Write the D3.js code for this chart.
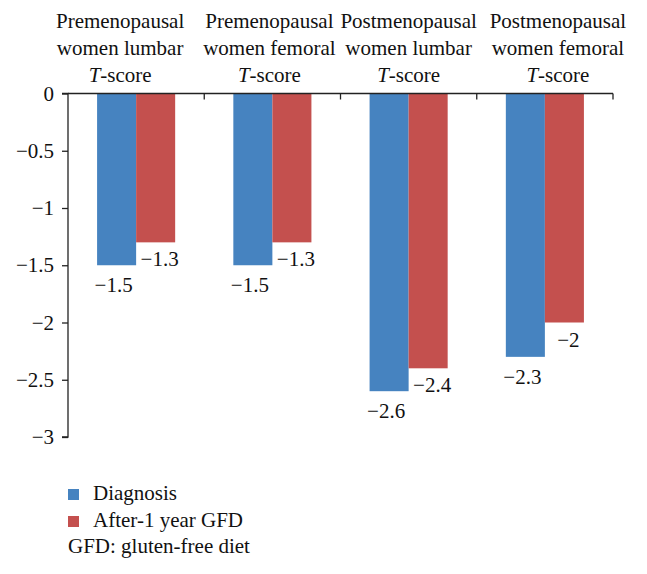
<!DOCTYPE html>
<html>
<head>
<meta charset="utf-8">
<script src="https://cdn.jsdelivr.net/npm/d3@7"></script>
<style>
  html, body { margin: 0; padding: 0; background: #fff; }
  svg { display: block; }
  text { font-family: "Liberation Serif", "DejaVu Serif", serif; fill: #111; }
</style>
</head>
<body>
<svg id="chart" width="647" height="574"></svg>
<script>
// ---- data ----
const categories = ["pre-lumbar", "pre-femoral", "post-lumbar", "post-femoral"];
const categoryLine1 = ["Premenopausal", "Premenopausal", "Postmenopausal", "Postmenopausal"];
const categoryLine2 = ["women lumbar", "women femoral", "women lumbar", "women femoral"];
const seriesNames = ["Diagnosis", "After-1 year GFD"];
const diagnosis = [-1.5, -1.5, -2.6, -2.3];
const afterGFD = [-1.3, -1.3, -2.4, -2.0];
const yTicks = [0, -0.5, -1, -1.5, -2, -2.5, -3];
const footnote = "GFD: gluten-free diet";

// ---- layout ----
const svg = d3.select("#chart");
const mLeft = 68, mRight = 613, mTop = 93.5, mBottom = 437;
const colors = ["#4683C0", "#C4504E"];
const labelNudge = [-16, -3, 0, 13];
const fontSize = 21;

const x0 = d3.scaleBand().domain(categories).range([mLeft, mRight]).padding(0);
const x1 = d3.scaleBand().domain(seriesNames).range([0, x0.bandwidth()]).paddingInner(0).paddingOuter(0.745);
const y = d3.scaleLinear().domain([0, -3]).range([mTop, mBottom]);

const fmt = v => (v < 0 ? "\u2212" : "") + d3.format("")(Math.abs(v));

// bars
const series = [diagnosis, afterGFD];
series.forEach((vals, si) => {
  svg.append("g").selectAll("rect").data(vals).join("rect")
    .attr("x", (d, i) => x0(categories[i]) + x1(seriesNames[si]))
    .attr("y", y(0))
    .attr("width", x1.bandwidth())
    .attr("height", d => y(d) - y(0))
    .attr("fill", colors[si]);
});

// data labels
const labelDx = [-3, 4];
const labelDy = [27, 24];
series.forEach((vals, si) => {
  svg.append("g").selectAll("text").data(vals).join("text")
    .attr("x", (d, i) => x0(categories[i]) + x1(seriesNames[si]) + x1.bandwidth() / 2 + labelDx[si])
    .attr("y", d => y(d) + labelDy[si])
    .attr("text-anchor", "middle")
    .attr("font-size", fontSize)
    .text(d => fmt(d));
});

// y axis
const yAxis = d3.axisLeft(y).tickValues(yTicks).tickSize(6).tickPadding(8).tickFormat(fmt);
const gy = svg.append("g").attr("transform", `translate(${mLeft},0)`).call(yAxis);
gy.select(".domain").attr("d", `M-6,${mTop}H0V${mBottom}H-6`).attr("stroke", "#222").attr("stroke-width", 1.3);
gy.selectAll(".tick line").attr("stroke", "#222").attr("stroke-width", 1.3);
gy.selectAll(".tick text").attr("font-size", fontSize)
  .style("font-family", '"Liberation Serif", serif').attr("fill", "#111");

// zero line with category ticks pointing down
const boundaries = categories.map(c => x0(c) + x0.bandwidth());
const gx = svg.append("g");
gx.append("line").attr("x1", mLeft).attr("x2", mRight).attr("y1", y(0)).attr("y2", y(0))
  .attr("stroke", "#222").attr("stroke-width", 1.3);
gx.selectAll("line.t").data(boundaries).join("line").attr("class", "t")
  .attr("x1", d => d).attr("x2", d => d).attr("y1", y(0)).attr("y2", y(0) + 6)
  .attr("stroke", "#222").attr("stroke-width", 1.3);

// category labels (above)
const catG = svg.append("g");
categories.forEach((c, i) => {
  const cx = x0(c) + x0.bandwidth() / 2 + labelNudge[i];
  const t = catG.append("text").attr("text-anchor", "middle").attr("font-size", fontSize);
  t.append("tspan").attr("x", cx).attr("y", 28).text(categoryLine1[i]);
  t.append("tspan").attr("x", cx).attr("y", 55).text(categoryLine2[i]);
  const t3 = t.append("tspan").attr("x", cx).attr("y", 82);
  t3.append("tspan").attr("font-style", "italic").text("T");
  t3.append("tspan").text("-score");
});

// legend
const lg = svg.append("g");
seriesNames.forEach((n, i) => {
  lg.append("rect").attr("x", 68).attr("y", 489 + i * 27).attr("width", 11).attr("height", 11).attr("fill", colors[i]);
  lg.append("text").attr("x", 93).attr("y", 500 + i * 27).attr("font-size", fontSize).text(n);
});
lg.append("text").attr("x", 68).attr("y", 553).attr("font-size", fontSize).text(footnote);
</script>
</body>
</html>
